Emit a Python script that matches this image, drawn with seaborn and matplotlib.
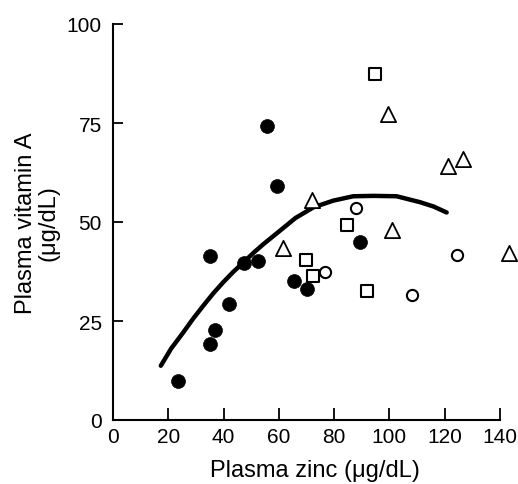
import matplotlib
matplotlib.use('Agg')
import matplotlib.pyplot as plt
import seaborn as sns
import pandas as pd

# Filled circles
filled_x = [23.6, 35.1, 36.9, 35.1, 42.1, 47.5, 52.6, 55.6, 59.2, 65.5, 70.1, 89.4]
filled_y = [9.8, 19.2, 22.8, 41.3, 29.3, 39.6, 40.2, 74.2, 59.2, 35.2, 33.2, 44.9]

# Open squares
square_x = [69.8, 72.5, 84.5, 92.0, 94.8]
square_y = [40.4, 36.3, 49.2, 32.6, 87.5]

# Open circles
circle_x = [76.7, 87.8, 108.1, 124.4]
circle_y = [37.5, 53.5, 31.6, 41.7]

# Open triangles
tri_x = [61.4, 71.9, 99.6, 100.9, 121.3, 126.5, 143.4]
tri_y = [43.4, 55.6, 77.3, 48.0, 64.2, 65.9, 42.2]

# Fitted curve
curve_x = [17.3, 21.0, 25.4, 29.0, 32.7, 36.3, 39.9, 43.5, 47.2, 50.8, 54.4, 60.4,
           66.0, 72.5, 79.7, 86.9, 94.2, 102.6, 111.1, 116.0, 120.7]
curve_y = [13.7, 18.0, 22.1, 25.6, 28.9, 32.0, 34.8, 37.4, 39.8, 42.2, 44.4, 47.8,
           51.0, 53.7, 55.4, 56.5, 56.6, 56.5, 55.0, 53.9, 52.4]

x_ticks = [0, 20, 40, 60, 80, 100, 120, 140]
y_ticks = [0, 25, 50, 75, 100]

sns.set_style('white')
plt.rcParams['font.family'] = ['Liberation Sans', 'DejaVu Sans']
plt.rcParams['text.color'] = 'black'
plt.rcParams['axes.labelcolor'] = 'black'
plt.rcParams['xtick.direction'] = 'in'
plt.rcParams['ytick.direction'] = 'in'

fig = plt.figure(figsize=(5.18, 4.85), dpi=100)
ax = fig.add_axes([113 / 518, 1 - 421 / 485, 387 / 518, 396 / 485])

curve = pd.DataFrame({'x': curve_x, 'y': curve_y})
sns.lineplot(data=curve, x='x', y='y', color='black', linewidth=3.2, sort=False, ax=ax)

sns.scatterplot(x=filled_x, y=filled_y, marker='o', s=100, color='black',
                edgecolor='black', linewidth=0.5, ax=ax, zorder=3)
sns.scatterplot(x=square_x, y=square_y, marker='s', s=65, color='white',
                edgecolor='black', linewidth=1.5, ax=ax, zorder=3)
sns.scatterplot(x=circle_x, y=circle_y, marker='o', s=65, color='white',
                edgecolor='black', linewidth=1.5, ax=ax, zorder=3)
sns.scatterplot(x=tri_x, y=tri_y, marker='^', s=120, color='white',
                edgecolor='black', linewidth=1.3, ax=ax, zorder=3,
                clip_on=False)

ax.set_xlim(0, 140)
ax.set_ylim(0, 100)
ax.set_xticks(x_ticks)
ax.set_yticks(y_ticks)
ax.tick_params(axis='x', bottom=True, direction='in', length=9, width=1.3, pad=5,
               labelsize=15, colors='black')
ax.tick_params(axis='y', left=True, direction='in', length=7, width=1.3, pad=8,
               labelsize=15, colors='black')

sns.despine(ax=ax)
for side in ['left', 'bottom']:
    ax.spines[side].set_linewidth(1.5)
    ax.spines[side].set_color('black')

ax.set_xlabel('Plasma zinc (μg/dL)', fontsize=17)
ax.xaxis.label.set_va('center')
ax.xaxis.set_label_coords((315 - 113) / 387, (421 - 471) / 396)

ax.set_ylabel('Plasma vitamin A\n(μg/dL)', fontsize=17, linespacing=1.05)
ax.yaxis.label.set_va('center')
ax.yaxis.set_label_coords((37 - 113) / 387, 0.5)

plt.savefig('out.png', dpi=100)
plt.close()
